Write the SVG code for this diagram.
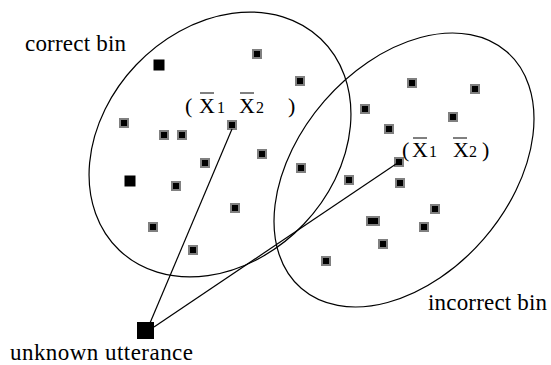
<svg xmlns="http://www.w3.org/2000/svg" width="551" height="365" viewBox="0 0 551 365">
<style>
.bin{fill:none;stroke:#000;stroke-width:1.2}
.pt{fill:#000;stroke:#808080;stroke-width:2}
.solid{fill:#000}
.lbl{font-family:"Liberation Serif","Times New Roman",serif;font-size:23px;fill:#000}
.m{font-family:"Liberation Serif","Times New Roman",serif;font-size:22px;fill:#000}
.sub{font-family:"Liberation Serif","Times New Roman",serif;font-size:16px;fill:#000}
.ov{stroke:#000;stroke-width:1}
.conn{stroke:#000;stroke-width:1.2;fill:none}
</style>
<rect width="551" height="365" fill="#fff"/>
<g id="correct-bin">
<ellipse class="bin" cx="220" cy="144.5" rx="146" ry="115.6" transform="rotate(-46.4 220 144.5)"/>
<text class="lbl" x="25" y="51" textLength="101" lengthAdjust="spacing">correct bin</text>
<rect class="pt" x="253" y="50" width="8" height="8"/>
<rect class="pt" x="296" y="77" width="8" height="8"/>
<rect class="pt" x="120" y="119" width="8" height="8"/>
<rect class="pt" x="160" y="131" width="8" height="8"/>
<rect class="pt" x="178" y="131" width="8" height="8"/>
<rect class="pt" x="228" y="121" width="8" height="8"/>
<rect class="pt" x="258" y="150" width="8" height="8"/>
<rect class="pt" x="201" y="159" width="8" height="8"/>
<rect class="pt" x="172" y="182" width="8" height="8"/>
<rect class="pt" x="231" y="204" width="8" height="8"/>
<rect class="pt" x="149" y="223" width="8" height="8"/>
<rect class="pt" x="189" y="246" width="8" height="8"/>
<rect class="solid" x="153.5" y="59.5" width="11" height="11"/>
<rect class="solid" x="124.5" y="175.5" width="11" height="11"/>
<text class="m" x="185" y="113">(</text>
<text class="m" x="199" y="113">X</text>
<text class="sub" x="217" y="113">1</text>
<text class="m" x="239" y="113">X</text>
<text class="sub" x="256" y="113">2</text>
<text class="m" x="288" y="113">)</text>
<line class="ov" x1="200" y1="93" x2="214" y2="93"/>
<line class="ov" x1="240" y1="93" x2="254" y2="93"/>
</g>
<g id="incorrect-bin">
<ellipse class="bin" cx="404" cy="170" rx="156.7" ry="105.4" transform="rotate(-49 404 170)"/>
<text class="lbl" x="428" y="310" textLength="119" lengthAdjust="spacing">incorrect bin</text>
<rect class="pt" x="408" y="79" width="8" height="8"/>
<rect class="pt" x="471" y="85" width="8" height="8"/>
<rect class="pt" x="361" y="105" width="8" height="8"/>
<rect class="pt" x="449" y="113" width="8" height="8"/>
<rect class="pt" x="385" y="125" width="8" height="8"/>
<rect class="pt" x="297" y="164" width="8" height="8"/>
<rect class="pt" x="345" y="176" width="8" height="8"/>
<rect class="pt" x="395" y="158" width="8" height="8"/>
<rect class="pt" x="396" y="179" width="8" height="8"/>
<rect class="pt" x="431" y="205" width="8" height="8"/>
<rect class="pt" x="367" y="217" width="12" height="8"/>
<rect class="pt" x="420" y="223" width="8" height="8"/>
<rect class="pt" x="379" y="240" width="8" height="8"/>
<rect class="pt" x="322" y="257" width="8" height="8"/>
<text class="m" x="402" y="157">(</text>
<text class="m" x="412" y="157">X</text>
<text class="sub" x="429" y="157">1</text>
<text class="m" x="453" y="157">X</text>
<text class="sub" x="469" y="157">2</text>
<text class="m" x="482" y="157">)</text>
<line class="ov" x1="413" y1="138" x2="427" y2="138"/>
<line class="ov" x1="453" y1="138" x2="467" y2="138"/>
</g>
<g id="connectors">
<line class="conn" x1="150" y1="323" x2="232" y2="129"/>
<line class="conn" x1="154" y1="327" x2="399" y2="162"/>
</g>
<g id="unknown-utterance">
<rect class="solid" x="137" y="322" width="17" height="17"/>
<text class="lbl" x="10" y="360" textLength="183" lengthAdjust="spacing">unknown utterance</text>
</g>
</svg>
